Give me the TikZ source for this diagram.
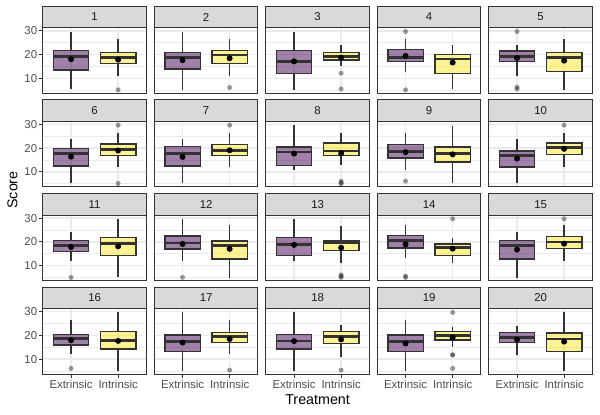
\documentclass[tikz,border=0pt]{standalone}
\usepackage{fontspec}
\setmainfont{Liberation Sans}
\definecolor{extc}{HTML}{440154}
\definecolor{intc}{HTML}{FDE725}
\definecolor{g20}{HTML}{333333}
\definecolor{g30}{HTML}{4D4D4D}
\definecolor{g85}{HTML}{D9D9D9}
\definecolor{g92}{HTML}{EBEBEB}
\definecolor{g10}{HTML}{1A1A1A}
\tikzset{
 gmaj/.style={draw=g92, line width=1.4pt},
 gmin/.style={draw=g92, line width=0.7pt},
 frame/.style={draw=g20, line width=0.9pt},
 stripbox/.style={draw=g20, fill=g85, line width=0.9pt},
 whisk/.style={draw=g20, line width=1.4pt},
 boxln/.style={draw=g20, line width=1.4pt},
 medln/.style={draw=g20, line width=2.8pt},
 meandot/.style={fill=black},
 outl/.style={fill=g20, fill opacity=0.5},
 tickln/.style={draw=g20, line width=0.9pt},
 ticklab/.style={text=g30, font=\fontsize{11.4}{13}\selectfont, inner sep=0pt},
 striplab/.style={text=g10, font=\fontsize{11.4}{13}\selectfont, inner sep=0pt},
 axtitle/.style={text=black, font=\fontsize{14.3}{16}\selectfont, inner sep=0pt},
 panel/.style 2 args={shift={({42.8+111.5*#1-18.84},{30.8+93.65*#2+71.1})}, x=47.09pt, y=2.37pt},
}
\newcommand\Bx[8]{%
 \draw[whisk] (#1,#2) -- (#1,#3) (#1,#5) -- (#1,#6);
 \filldraw[boxln, fill=#8, fill opacity=0.5] (#1-0.375,#3) rectangle (#1+0.375,#5);
 \draw[medln] (#1-0.375,#4) -- (#1+0.375,#4);
 \fill[meandot] (#1,#7) circle[radius=3pt];
}
\newcommand\Ex[6]{\Bx{1}{#1}{#2}{#3}{#4}{#5}{#6}{extc}}
\newcommand\In[6]{\Bx{2}{#1}{#2}{#3}{#4}{#5}{#6}{intc}}
\newcommand\Ot[2]{\fill[outl] (#1,#2) circle[radius=2.5pt];}
\newcommand\Grd{%
 \foreach \v in {5,15,25} \draw[gmin] (0.4,\v) -- (2.6,\v);
 \foreach \v in {10,20,30} \draw[gmaj] (0.4,\v) -- (2.6,\v);
 \foreach \u in {1,2} \draw[gmaj] (\u,3.75) -- (\u,31.25);
}
\newcommand\Pnl[4]{%
 \begin{scope}[panel={#1}{#2}]
 \Grd
 #4
 \draw[frame] (0.4,3.75) rectangle (2.6,31.25);
 \draw[stripbox] (0.4,31.25) rectangle (2.6,40.36);
 \node[striplab] (s#3) at (1.5,35.8) {#3};
 \end{scope}
}
\begin{document}
\begin{tikzpicture}[x=1pt,y=-1pt]
\useasboundingbox (0,0) rectangle (600,415);
% row 1
\Pnl{0}{0}{1}{\Ex{5.4}{13.5}{19.2}{21.7}{29.6}{18}\In{11}{16.3}{18.8}{20.8}{26.5}{17.8}\Ot{2}{5.1}}
\Pnl{1}{0}{2}{\Ex{5.1}{13.9}{18.8}{20.9}{29.6}{17.6}\In{11}{16.3}{19.8}{21.6}{26.5}{18.4}\Ot{2}{6.1}}
\Pnl{2}{0}{3}{\Ex{5.1}{12.1}{17.1}{21.6}{29.7}{17.1}\In{15.2}{17.6}{19.1}{20.9}{24}{18.7}\Ot{2}{12.1}\Ot{2}{5.5}}
\Pnl{3}{0}{4}{\Ex{12.5}{17.1}{18.8}{22.2}{26.5}{19.4}\Ot{1}{29.7}\Ot{1}{5.1}\In{5.4}{12}{18.1}{20.1}{24}{16.6}}
\Pnl{4}{0}{5}{\Ex{11}{17.1}{19.1}{21.5}{24}{18.5}\Ot{1}{29.7}\Ot{1}{6.2}\Ot{1}{5.5}\In{5.1}{12.8}{18.8}{20.8}{26.5}{17.4}}
% row 2
\Pnl{0}{1}{6}{\Ex{5.1}{12.4}{17.7}{19.8}{23.7}{16.4}\In{12.1}{17}{19.5}{21.7}{26.5}{19}\Ot{2}{29.7}\Ot{2}{5.1}}
\Pnl{1}{1}{7}{\Ex{5.1}{12.4}{17.6}{20.8}{24}{16.3}\In{12.1}{17}{19.1}{21.5}{26.5}{19.1}\Ot{2}{29.7}}
\Pnl{2}{1}{8}{\Ex{10.8}{12.7}{18.4}{20.5}{29.7}{17.7}\In{12.9}{16.9}{18.8}{22.2}{26.5}{17.8}\Ot{2}{5}\Ot{2}{5.5}\Ot{2}{6}}
\Pnl{3}{1}{9}{\Ex{10.7}{15.9}{18.7}{21.5}{26.5}{18.3}\Ot{1}{6.1}\In{5.1}{14.1}{17.7}{20.5}{29.3}{17.4}}
\Pnl{4}{1}{10}{\Ex{5.1}{12}{17}{18.8}{23.7}{15.6}\In{12.1}{17.4}{20.2}{22.2}{26.5}{19.7}\Ot{2}{29.7}}
% row 3
\Pnl{0}{2}{11}{\Ex{12}{16}{18.4}{20.6}{24.3}{17.8}\Ot{1}{5}\In{5.3}{14.1}{19.2}{21.8}{29.7}{18.1}}
\Pnl{1}{2}{12}{\Ex{12}{17}{19.5}{22.5}{29.7}{19.1}\Ot{1}{5}\In{4.9}{12.7}{18.4}{20.4}{26.9}{17}}
\Pnl{2}{2}{13}{\Ex{11.9}{14.3}{18.7}{21.7}{29.7}{18.7}\In{10.9}{16.4}{19.7}{20.6}{26.8}{17.5}\Ot{2}{5}\Ot{2}{5.5}\Ot{2}{6}}
\Pnl{3}{2}{14}{\Ex{13}{17.4}{20.6}{22.6}{26.9}{18.9}\Ot{1}{5}\Ot{1}{5.5}\In{11}{14.1}{17.7}{19.1}{21.6}{17.1}\Ot{2}{29.7}}
\Pnl{4}{2}{15}{\Ex{4.9}{12.8}{18.4}{20.5}{24.3}{16.7}\In{12}{17.2}{19.9}{22.3}{26.9}{19.2}\Ot{2}{29.7}}
% row 4
\Pnl{0}{3}{16}{\Ex{12.2}{15.9}{18.8}{20.5}{26.5}{18}\Ot{1}{6.1}\In{5}{14.3}{18}{21.6}{29.7}{17.7}}
\Pnl{1}{3}{17}{\Ex{5.2}{13.2}{17.6}{20.2}{29.7}{17}\In{12.2}{17.1}{19.7}{21.3}{26.5}{18.5}\Ot{2}{5.4}}
\Pnl{2}{3}{18}{\Ex{5}{14.2}{17.7}{20.5}{29.7}{17.6}\In{10.8}{16.7}{19.5}{21.6}{24.3}{18.3}\Ot{2}{5.4}}
\Pnl{3}{3}{19}{\Ex{5}{13.2}{17.3}{20.2}{26.5}{16.6}\In{15.3}{18}{19.9}{21.6}{23.7}{19.1}\Ot{2}{29.7}\Ot{2}{11.8}\Ot{2}{11.8}\Ot{2}{6.1}}
\Pnl{4}{3}{20}{\Ex{11.7}{17}{19.1}{21.3}{24}{18.3}\In{5}{13.2}{18.5}{21}{29.7}{17.4}}
% y axes
\foreach \r in {0,...,3}{
 \begin{scope}[panel={0}{\r}]
 \foreach \v in {10,20,30}{
  \draw[tickln] (0.4,\v) -- ++(-3.6pt,0);
  \node[ticklab, anchor=east] (y\r-\v) at ([xshift=-5.5pt]0.4,\v) {\v};
 }
 \end{scope}
}
% x axes
\foreach \c in {0,...,4}{
 \begin{scope}[panel={\c}{3}]
 \foreach \u/\t in {1/Extrinsic,2/Intrinsic}{
  \draw[tickln] (\u,3.75) -- ++(0,-3.6pt);
  \node[ticklab, anchor=base] (x\c-\u) at ([yshift=-15pt]\u,3.75) {\t};
 }
 \end{scope}
}
\node[axtitle] (xt) at (317.6,399.5) {Treatment};
\node[axtitle, rotate=90] (yt) at (12.5,190) {Score};
\end{tikzpicture}
\end{document}
